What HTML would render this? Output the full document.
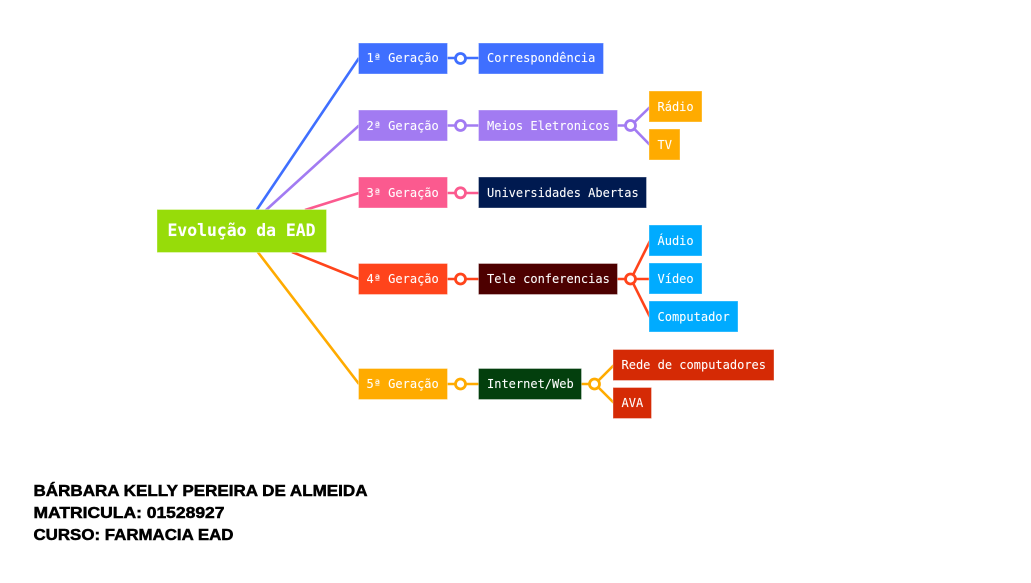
<!DOCTYPE html>
<html><head><meta charset="utf-8"><style>
html,body{margin:0;padding:0;background:#fff}
body{width:1031px;height:583px;overflow:hidden}
svg{display:block}
.n text{font-family:"DejaVu Sans Mono","Liberation Mono",monospace;font-size:12px;fill:#fff;font-weight:400;stroke:#fff;stroke-width:.2px}
.f{font-family:"Liberation Sans",Arial,sans-serif;font-size:15.5px;font-weight:700;fill:#000;stroke:#000;stroke-width:.5px}
circle{stroke-width:2.8}
</style></head><body>
<svg width="1031" height="583" viewBox="0 0 1031 583" fill="none" stroke-width="2.6">
<rect width="1031" height="583" fill="#fff" stroke="none"/>
<g stroke="#3f6fff"><path d="M256 211L359 58M447 58H479"/><circle cx="460.5" cy="58.5" r="5" fill="#fff"/></g>
<g stroke="#a27bf2"><path d="M265 211L359 125.500M447 125.500H479M617 125.500H631L650 107M631 125.500L650 145"/><circle cx="460.500" cy="125.500" r="5" fill="#fff"/><circle cx="630.500" cy="125.500" r="5" fill="#fff"/></g>
<g stroke="#fb5a8f"><path d="M305 210L359 193M447 193H479"/><circle cx="460.500" cy="192.800" r="5" fill="#fff"/></g>
<g stroke="#ff441b"><path d="M292 252L359 279M447 279H479M617 279H650M631 279L650 241M631 279L650 317"/><circle cx="460.500" cy="279" r="5" fill="#fff"/><circle cx="630.500" cy="279" r="5" fill="#fff"/></g>
<g stroke="#ffab00"><path d="M257 251L359 384M447 384H479M581 384H595L614 365M595 384L614 403"/><circle cx="460.500" cy="384" r="5" fill="#fff"/><circle cx="594.500" cy="384" r="5" fill="#fff"/></g>
<g class="n" stroke-width="1" stroke-opacity=".35" stroke="#fff">
<rect x="157" y="209.500" width="169.500" height="43" fill="#97dc09"/>
<rect x="358.500" y="43" width="89" height="31" fill="#3f6fff"/>
<rect x="478.500" y="43" width="125" height="31" fill="#3f6fff"/>
<rect x="358.500" y="110" width="89" height="31" fill="#a27bf2"/>
<rect x="478.500" y="110" width="139" height="31" fill="#a27bf2"/>
<rect x="649" y="91" width="53" height="31" fill="#ffab00"/>
<rect x="649" y="129" width="31" height="31" fill="#ffab00"/>
<rect x="358.500" y="177" width="89" height="31" fill="#fb5a8f"/>
<rect x="478.500" y="177" width="168" height="31" fill="#001a50"/>
<rect x="358.500" y="263.500" width="89" height="31" fill="#ff441b"/>
<rect x="478.500" y="263.500" width="139" height="31" fill="#4d0000"/>
<rect x="649" y="225" width="53" height="31" fill="#00abff"/>
<rect x="649" y="263" width="53" height="31" fill="#00abff"/>
<rect x="649" y="301" width="89" height="31" fill="#00abff"/>
<rect x="358.500" y="368.500" width="89" height="31" fill="#ffab00"/>
<rect x="478.500" y="368.500" width="103" height="31" fill="#033f0d"/>
<rect x="613" y="349.500" width="161" height="31" fill="#d52a05"/>
<rect x="613" y="387.500" width="38.500" height="31" fill="#d52a05"/>
<g>
<text x="167.500" y="236" style="font-size:16.400px;font-weight:700">Evolução da EAD</text>
<text x="366.500" y="62">1ª Geração</text>
<text x="487" y="62">Correspondência</text>
<text x="366.500" y="130">2ª Geração</text>
<text x="487" y="130">Meios Eletronicos</text>
<text x="657.500" y="111">Rádio</text>
<text x="657.500" y="149">TV</text>
<text x="366.500" y="197">3ª Geração</text>
<text x="487" y="197">Universidades Abertas</text>
<text x="366.500" y="283">4ª Geração</text>
<text x="487" y="283">Tele conferencias</text>
<text x="657.500" y="245">Áudio</text>
<text x="657.500" y="283">Vídeo</text>
<text x="657.500" y="321">Computador</text>
<text x="366.500" y="388">5ª Geração</text>
<text x="487" y="388">Internet/Web</text>
<text x="621.500" y="369">Rede de computadores</text>
<text x="621.500" y="407">AVA</text>
</g>
</g>
<text class="f" x="33.500" y="496" textLength="334" lengthAdjust="spacingAndGlyphs">BÁRBARA KELLY PEREIRA DE ALMEIDA</text>
<text class="f" x="33.500" y="518" textLength="191" lengthAdjust="spacingAndGlyphs">MATRICULA: 01528927</text>
<text class="f" x="33.500" y="540" textLength="200" lengthAdjust="spacingAndGlyphs">CURSO: FARMACIA EAD</text>
</svg>
</body></html>
